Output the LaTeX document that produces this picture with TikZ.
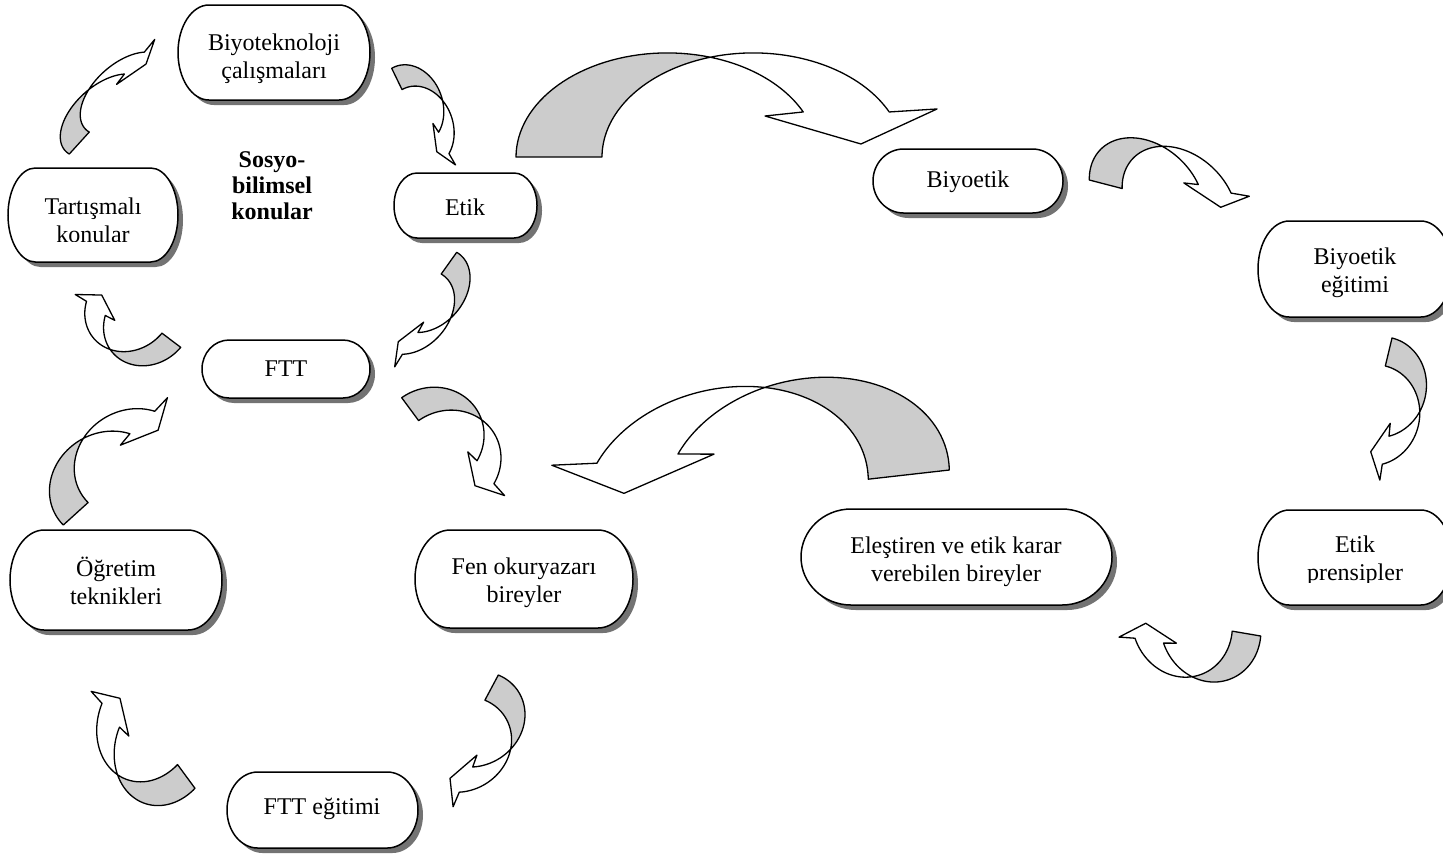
\documentclass[tikz,border=0pt]{standalone}
\usepackage{fontspec}
\setmainfont{Liberation Serif}
\newcommand{\termbox}[4]{%
  \pgfmathsetmacro\tbrx{0.161*(#3-#1)*0.5}%
  \pgfmathsetmacro\tbry{(#4-#2)*0.25}%
  \pgfmathsetmacro\tbxa{#1+0.161*(#3-#1)}%
  \pgfmathsetmacro\tbxb{#3-0.161*(#3-#1)}%
  \fill[boxshadow] (\tbxa+5,-#2-5) -- (\tbxb+5,-#2-5)
    arc[start angle=90,end angle=-90,x radius=\tbrx pt,y radius=\tbry pt]
    -- (\tbxa+5,-#4-5)
    arc[start angle=270,end angle=90,x radius=\tbrx pt,y radius=\tbry pt] -- cycle;
  \path[boxline] (\tbxa,-#2) -- (\tbxb,-#2)
    arc[start angle=90,end angle=-90,x radius=\tbrx pt,y radius=\tbry pt]
    -- (\tbxa,-#4)
    arc[start angle=270,end angle=90,x radius=\tbrx pt,y radius=\tbry pt] -- cycle;
}
% curved arrow: tail-outer corner (image px), base vector, height vector (image px, y down)
\newcommand{\carrow}[6]{%
  \pgfmathsetmacro\cma{#3}%
  \pgfmathsetmacro\cmb{-1*(#4)}%
  \pgfmathsetmacro\cmc{#5}%
  \pgfmathsetmacro\cmd{-1*(#6)}%
  \begin{scope}[shift={(#1,-#2)}, cm={\cma,\cmb,\cmc,\cmd,(0,0)}]
    \path[arrback] plot[domain=180:73.45,samples=40] ({0.3587+0.3587*cos(\x)},{sin(\x)})
      -- plot[domain=106.55:180,samples=40] ({0.5630+0.3587*cos(\x)},{sin(\x)}) -- cycle;
    \path[arrfront] plot[domain=106.55:25.64,samples=40] ({0.5630+0.3587*cos(\x)},{sin(\x)})
      -- (1.0,0.4615) -- (0.8195,0.125) -- (0.5914,0.394)
      -- plot[domain=25.64:73.45,samples=40] ({0.3587+0.3587*cos(\x)},{sin(\x)}) -- cycle;
  \end{scope}%
}
\begin{document}
\begin{tikzpicture}[x=0.5pt,y=0.5pt,
  boxline/.style={draw=black, line width=0.75pt, fill=white},
  boxshadow/.style={fill=black!55},
  nodetext/.style={align=center, inner sep=0pt, font=\fontsize{12}{14}\selectfont},
  boldtext/.style={align=center, inner sep=0pt, font=\bfseries\fontsize{12}{13}\selectfont},
  arrline/.style={draw=black, line width=0.65pt, line join=round},
  arrback/.style={arrline, fill=black!20},
  arrfront/.style={arrline, fill=white}]
\useasboundingbox (0,0) rectangle (1443,-853);
\fill[white] (0,0) rectangle (1443,-853);

% boxes
\termbox{178}{5}{370}{100}
\node[nodetext] (biyotek) at (274,-59) {Biyoteknoloji\\çalışmaları};
\termbox{394}{173}{537}{238}
\node[nodetext] (etik) at (465,-207) {Etik};
\termbox{8}{168}{178}{262}
\begin{scope}
  \clip (0,-160) rectangle (200,-241);
  \node[nodetext] (tartismali) at (93,-220) {Tartışmalı\\konular};
\end{scope}
\node[boldtext] (sosyo) at (272,-186) {Sosyo-\\bilimsel\\konular};
\termbox{202}{340}{370}{398}
\node[nodetext] (ftt) at (286,-369) {FTT};
\termbox{10}{530}{222}{630}
\node[nodetext] (ogretim) at (116,-581) {Öğretim\\teknikleri};
\termbox{415}{530}{633}{628}
\node[nodetext] (fen) at (524,-583) {Fen okuryazarı\\bireyler};
\termbox{227}{772}{418}{848}
\node[nodetext] (ftteg) at (322,-809) {FTT eğitimi};
\termbox{873}{149}{1063}{213}
\node[nodetext] (biyoetik) at (968,-182) {Biyoetik};
\termbox{1258}{221}{1452}{317}
\node[nodetext] (biyoeg) at (1355,-273) {Biyoetik\\eğitimi};
\termbox{1258}{510}{1452}{605}
\begin{scope}
  \clip (1250,-500) rectangle (1460,-582);
  \node[nodetext] (etikpr) at (1355,-561) {Etik\\prensipler};
\end{scope}
\termbox{801}{509}{1112}{605}
\node[nodetext] (elestiren) at (956,-562) {Eleştiren ve etik karar\\verebilen bireyler};

% curved arrows
\carrow{69.3}{154}{97.7}{-107.4}{-26.7}{-15.5}
\carrow{391.7}{68.3}{50.6}{104.3}{28.7}{-16.6}
\carrow{516}{157}{420.9}{0}{0.3}{-104.1}
\carrow{1089.3}{180}{160.5}{41.7}{-1.1}{-55.2}
\carrow{1392}{338}{-32.8}{137.1}{44.7}{10.8}
\carrow{1260.7}{636}{-139.6}{-23.8}{-4.5}{53.9}
\carrow{949.3}{470}{-396.7}{44.9}{-1.8}{-107.7}
\carrow{498.3}{675}{-65.7}{123.3}{44.4}{18.2}
\carrow{195}{788.3}{-85.5}{-116.2}{-39.7}{41.7}
\carrow{63.3}{525}{121.4}{-110}{-37.4}{-37.5}
\carrow{180.7}{347.3}{-91.9}{-69.2}{-29.4}{35.5}
\carrow{456.7}{252.3}{-75.9}{106.4}{30.1}{17.6}
\carrow{401.7}{397.7}{82.8}{112.1}{43.5}{-30.9}
\end{tikzpicture}
\end{document}
